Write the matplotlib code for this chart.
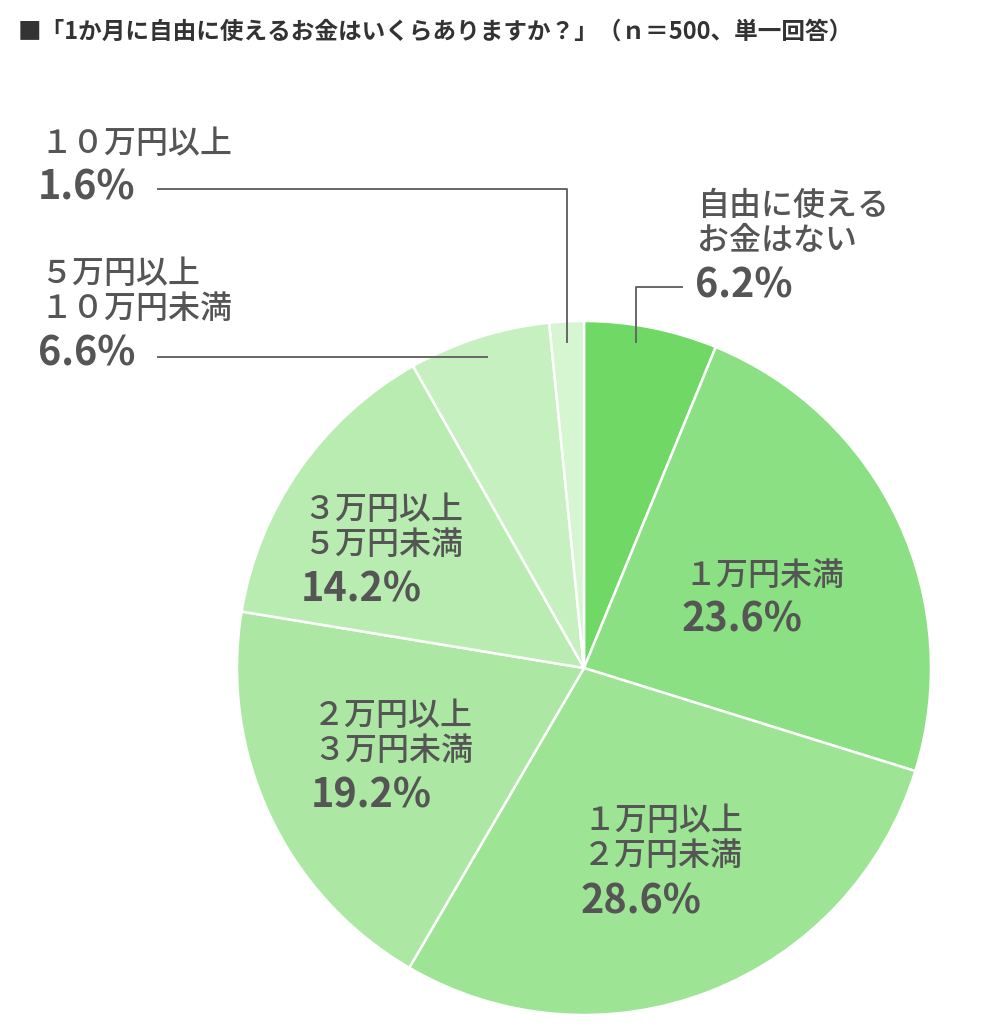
import matplotlib
matplotlib.use("Agg")
from matplotlib import pyplot as plt

plt.rcParams['font.family'] = ['Noto Sans CJK JP', 'DejaVu Sans']

W, H = 988, 1036

title = "■「1か月に自由に使えるお金はいくらありますか？」（ｎ＝500、単一回答）"
categories = ["自由に使える\nお金はない", "１万円未満", "１万円以上\n２万円未満", "２万円以上\n３万円未満",
              "３万円以上\n５万円未満", "５万円以上\n１０万円未満", "１０万円以上"]
values = [6.2, 23.6, 28.6, 19.2, 14.2, 6.6, 1.6]
colors = ["#70d865", "#8be083", "#9de494", "#ace8a3", "#b9ecb1", "#c6f0c0", "#d6f5d1"]

# label anchor (left x, top y of first line) in pixels from top-left
label_pos = [(697, 190), (684, 560), (583, 805), (313, 700), (303, 494), (40, 258), (40, 128)]

txt_col = "#555555"
line_col = "#666666"

fig = plt.figure(figsize=(W / 100, H / 100), dpi=100)
ax = fig.add_axes([0, 0, 1, 1])

def Y(y):
    return H - y

cx, cy, r = 584, 668, 347
ax.pie(values, colors=colors, startangle=90, counterclock=False, center=(cx, Y(cy)), radius=r,
       wedgeprops=dict(edgecolor='white', linewidth=1.8), frame=True)
ax.set_xlim(0, W)
ax.set_ylim(0, H)
ax.set_aspect('equal')
ax.axis('off')

line_h = 37
for cat, v, (x, y) in zip(categories, values, label_pos):
    n = cat.count("\n") + 1
    ax.text(x, Y(y), cat, fontsize=23, fontweight='medium', color=txt_col, ha='left', va='top',
            linespacing=1.12)
    ax.text(x - 2, Y(y + n * line_h + 2), f"{v}%", fontsize=28.5, fontweight='bold', color=txt_col,
            ha='left', va='top')

# leader lines
ax.plot([636, 636, 682], [Y(342), Y(287), Y(287)], color=line_col, lw=1.4)
ax.plot([158, 487], [Y(357), Y(357)], color=line_col, lw=1.4)
ax.plot([158, 567, 567], [Y(189), Y(189), Y(342)], color=line_col, lw=1.4)

fig.text(18 / W, 1 - 32 / H, title, fontsize=17, fontweight='bold', color="#333333", ha='left', va='center')

fig.savefig("out.png", dpi=100)
